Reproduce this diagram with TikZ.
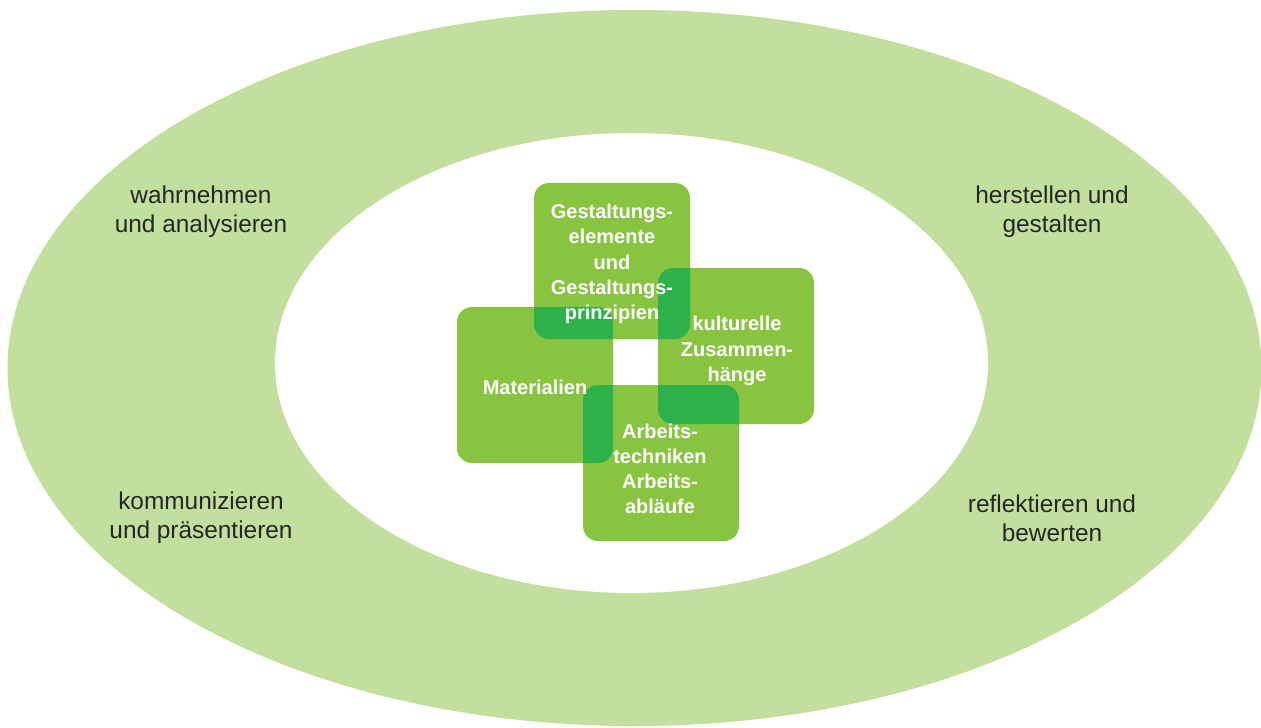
\documentclass[tikz,border=0pt]{standalone}
\usepackage{fontspec}
\setmainfont{Liberation Sans}
\usetikzlibrary{positioning}
\definecolor{ringgreen}{RGB}{194,223,157}
\definecolor{boxgreen}{RGB}{136,196,64}
\definecolor{cutgreen}{RGB}{46,176,75}
\begin{document}
\begin{tikzpicture}[x=0.5pt,y=-0.5pt,
  box/.style={fill=boxgreen,rounded corners=7.5pt},
  cut/.style={fill=cutgreen},
  inner/.style={text=white,font=\bfseries\fontsize{10}{12.6}\selectfont,align=center,inner sep=0pt},
  outer/.style={text=black!85,font=\fontsize{12.2}{14.5}\selectfont,align=center,inner sep=0pt}]
\useasboundingbox (0,0) rectangle (1261,727);
% ring
\fill[ringgreen] (634.5,368) ellipse (627 and 358);
\fill[white] (631.5,363) ellipse (356.5 and 230);
% the four squares
\foreach \xa/\ya in {534/183,457/307,658/268,583/385}
  \fill[box] (\xa,\ya) rectangle ++(156,156);
% where two squares overlap
\foreach \xa/\ya/\xb/\yb in {534/183/457/307,534/183/658/268,658/268/583/385,457/307/583/385}{
  \begin{scope}
    \clip[rounded corners=7.5pt] (\xa,\ya) rectangle ++(156,156);
    \fill[cut,rounded corners=7.5pt] (\xb,\yb) rectangle ++(156,156);
  \end{scope}
}
\node[inner] (gest) at (612,264) {Gestaltungs-\\elemente\\und\\Gestaltungs-\\prinzipien};
\node[inner] (kult) at (737,351) {kulturelle\\Zusammen-\\hänge};
\node[inner] (mat) at (535,387) {Materialien};
\node[inner] (arb) at (660,469) {Arbeits-\\techniken\\Arbeits-\\abläufe};
% outer ring labels
\node[outer] (wahr) at (201,212) {wahrnehmen\\und analysieren};
\node[outer] (herst) at (1052,212) {herstellen und\\gestalten};
\node[outer] (komm) at (201,518) {kommunizieren\\und präsentieren};
\node[outer] (refl) at (1052,518) {reflektieren und\\bewerten};
\end{tikzpicture}
\end{document}
